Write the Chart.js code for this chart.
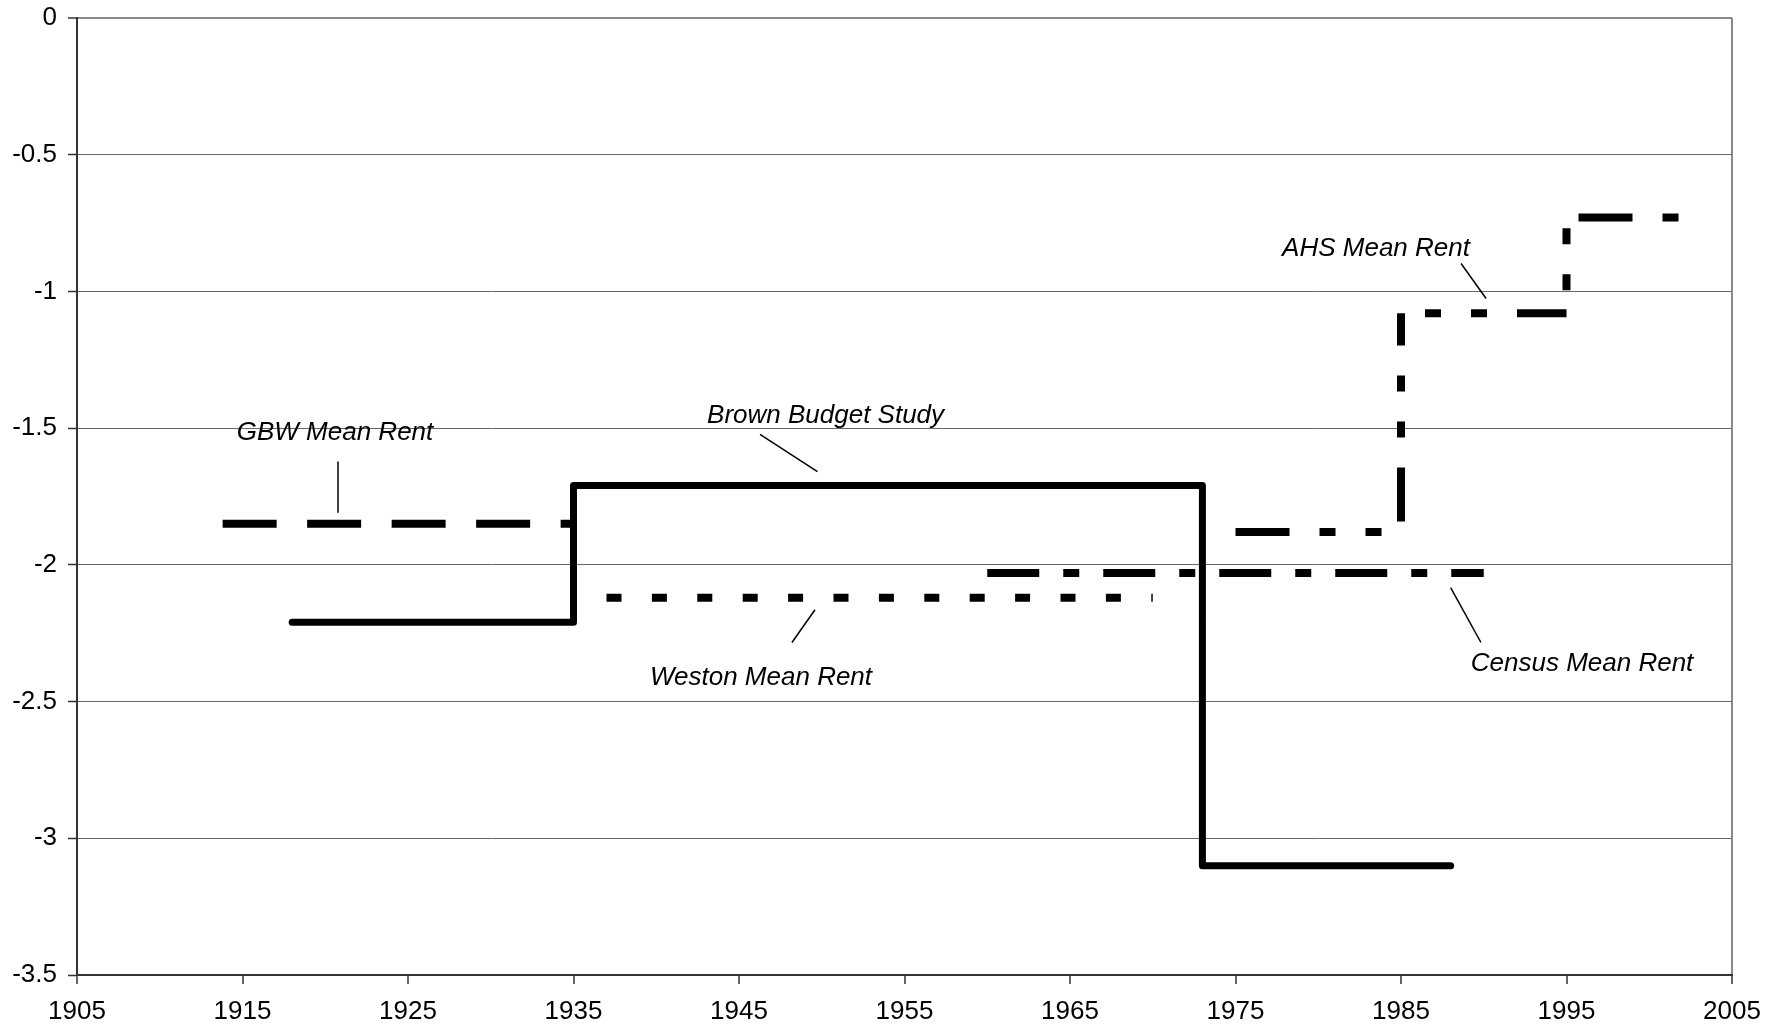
<!DOCTYPE html>
<html>
<head>
<meta charset="utf-8">
<script src="https://cdn.jsdelivr.net/npm/chart.js@4.4.1/dist/chart.umd.min.js"></script>
<style>
html,body{margin:0;padding:0;background:#ffffff;}
#wrap{position:relative;width:1784px;height:1029px;}
</style>
</head>
<body>
<div id="wrap"><canvas id="chart"></canvas></div>
<script>
// ---- axis ticks ----
const xTickValues = [1905, 1915, 1925, 1935, 1945, 1955, 1965, 1975, 1985, 1995, 2005];
const yTickValues = [0, -0.5, -1, -1.5, -2, -2.5, -3, -3.5];

// ---- series ----
const gbwYears = [1913.8, 1935];
const gbwValues = [-1.85, -1.85];

const brownYears = [1918, 1935, 1973, 1988];
const brownValues = [-2.21, -1.71, -3.1, -3.1];

const westonYears = [1935, 1970];
const westonValues = [-2.12, -2.12];

const censusYears = [1960, 1990];
const censusValues = [-2.03, -2.03];

// AHS step line, with its corner points
const ahsYears = [1975, 1985, 1985, 1995, 1995, 2002];
const ahsValues = [-1.88, -1.88, -1.08, -1.08, -0.73, -0.73];

// ---- annotation labels (data coordinates) ----
const labelTexts = ['GBW Mean Rent', 'Brown Budget Study', 'Weston Mean Rent', 'Census Mean Rent', 'AHS Mean Rent'];
const labelYears = [1920.59, 1950.23, 1946.33, 1995.94, 1983.49];
const labelValues = [-1.542, -1.48, -2.438, -2.387, -0.869];
const leaderYear1 = [1920.77, 1946.27, 1949.59, 1988.0, 1988.63];
const leaderValue1 = [-1.622, -1.523, -2.164, -2.083, -0.898];
const leaderYear2 = [1920.77, 1949.74, 1948.2, 1989.83, 1990.14];
const leaderValue2 = [-1.809, -1.659, -2.284, -2.284, -1.026];

// dash phase of each AHS piece (style only)
const ahsDashOffsets = [0, 0, 60, 61, 164];

function pts(years, values) { return years.map((x, i) => ({ x: x, y: values[i] })); }

const FONT = '"Liberation Sans", Arial, Helvetica, sans-serif';

const annotationPlugin = {
  id: 'annotations',
  afterDatasetsDraw(chart) {
    const ctx = chart.ctx, xs = chart.scales.x, ys = chart.scales.y;
    ctx.save();
    ctx.strokeStyle = '#000';
    ctx.lineWidth = 1.5;
    for (let i = 0; i < labelTexts.length; i++) {
      ctx.beginPath();
      ctx.moveTo(xs.getPixelForValue(leaderYear1[i]), ys.getPixelForValue(leaderValue1[i]));
      ctx.lineTo(xs.getPixelForValue(leaderYear2[i]), ys.getPixelForValue(leaderValue2[i]));
      ctx.stroke();
    }
    ctx.fillStyle = '#000';
    ctx.font = 'italic 26px ' + FONT;
    ctx.textAlign = 'center';
    ctx.textBaseline = 'alphabetic';
    for (let i = 0; i < labelTexts.length; i++) {
      ctx.fillText(labelTexts[i], xs.getPixelForValue(labelYears[i]), ys.getPixelForValue(labelValues[i]));
    }
    ctx.restore();
  }
};

const common = { borderColor: '#000', backgroundColor: '#000', pointRadius: 0, pointHoverRadius: 0, fill: false, tension: 0 };

new Chart(document.getElementById('chart'), {
  type: 'line',
  data: {
    datasets: [
      Object.assign({}, common, { label: 'Brown Budget Study', data: pts(brownYears, brownValues), stepped: 'before', borderWidth: 7, borderCapStyle: 'round', borderJoinStyle: 'round', order: 0 }),
      Object.assign({}, common, { label: 'GBW Mean Rent', data: pts(gbwYears, gbwValues), borderWidth: 8, borderDash: [54, 30.5], borderCapStyle: 'butt', order: 1 }),
      Object.assign({}, common, { label: 'Weston Mean Rent', data: pts(westonYears, westonValues), borderWidth: 8, borderDash: [15, 30.4], borderDashOffset: 12.4, borderCapStyle: 'butt', order: 2 }),
      Object.assign({}, common, { label: 'Census Mean Rent', data: pts(censusYears, censusValues), borderWidth: 8, borderDash: [52, 24, 16, 24], borderCapStyle: 'butt', order: 3 }),
      Object.assign({}, common, {
        label: 'AHS Mean Rent', data: pts(ahsYears, ahsValues), borderWidth: 8,
        borderDash: [54, 30, 16, 30, 16, 30], borderCapStyle: 'butt', borderJoinStyle: 'miter', order: 4,
        segment: { borderDashOffset: c => ahsDashOffsets[c.p0DataIndex] }
      })
    ]
  },
  options: {
    responsive: true,
    maintainAspectRatio: false,
    animation: false,
    devicePixelRatio: 1,
    layout: { padding: { top: 18, right: 52, bottom: 0, left: 0 } },
    plugins: { legend: { display: false }, tooltip: { enabled: false } },
    scales: {
      x: {
        type: 'linear',
        min: 1905,
        max: 2005,
        afterBuildTicks: s => { s.ticks = xTickValues.map(v => ({ value: v })); },
        afterFit: s => { s.height = 54; },
        ticks: {
          callback: v => String(v),
          font: { family: FONT, size: 26 },
          color: '#000',
          padding: 12,
          maxRotation: 0,
          autoSkip: false
        },
        grid: {
          color: c => (c.tick && c.tick.value === 2005) ? '#8a8a8a' : 'rgba(0,0,0,0)',
          lineWidth: 2,
          tickColor: '#333',
          tickWidth: 1.5,
          tickLength: 9
        },
        border: { color: '#333', width: 2 }
      },
      y: {
        min: -3.5,
        max: 0,
        afterBuildTicks: s => { s.ticks = yTickValues.map(v => ({ value: v })); },
        afterFit: s => { s.width = 77; s.paddingTop = 0; s.paddingBottom = 0; },
        ticks: {
          callback: v => String(v),
          font: { family: FONT, size: 26 },
          color: '#000',
          padding: 11
        },
        grid: {
          color: c => (c.tick && c.tick.value === 0) ? '#8a8a8a' : '#666666',
          lineWidth: c => (c.tick && c.tick.value === 0) ? 2 : 1,
          tickColor: '#333',
          tickWidth: 1.5,
          tickLength: 9
        },
        border: { color: '#333', width: 2 }
      }
    }
  },
  plugins: [annotationPlugin]
});
</script>
</body>
</html>
